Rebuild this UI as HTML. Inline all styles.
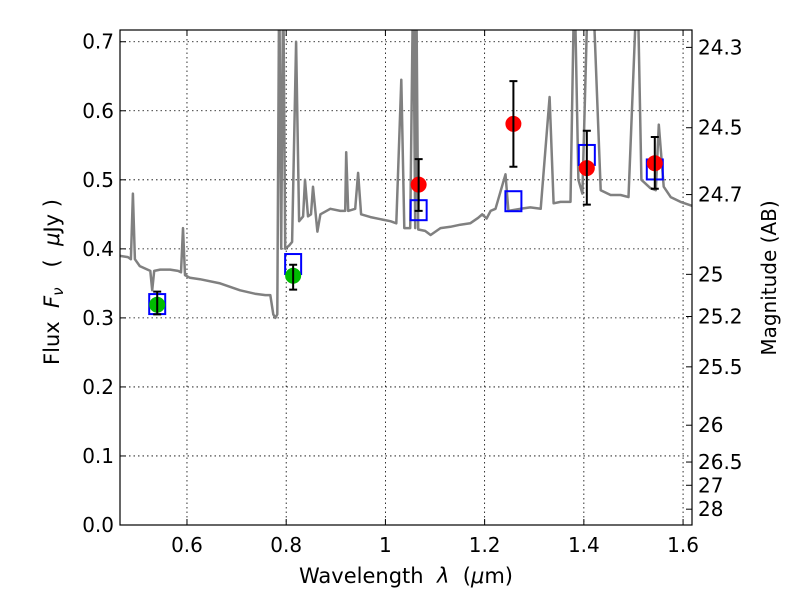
<!DOCTYPE html>
<html><head><meta charset="utf-8"><style>
body{margin:0;background:#fff}
svg{font-family:"DejaVu Sans","Liberation Sans",sans-serif}
text{white-space:pre}
</style></head><body>
<svg id="chart" width="800" height="600" xmlns="http://www.w3.org/2000/svg">
<defs><clipPath id="clip"><rect x="120" y="30" width="572" height="495"/></clipPath></defs>
<rect width="800" height="600" fill="#fff"/>
<g id="grid"></g>
<g id="spec" clip-path="url(#clip)"></g>
<g id="marks"></g>
<rect x="120" y="30" width="572" height="495" fill="none" stroke="#000" stroke-width="1.2"/>
<g id="axes"></g>
<text x="406" y="583" font-size="21" text-anchor="middle">Wavelength  <tspan font-style="italic">λ</tspan>  (<tspan font-style="italic">μ</tspan>m)</text>
<text transform="translate(59,282) rotate(-90)" font-size="21" text-anchor="middle">Flux  <tspan font-style="italic">F<tspan font-size="15" dy="4">ν</tspan></tspan><tspan dy="-4">   (  </tspan><tspan font-style="italic">μ</tspan>Jy )</text>
<text transform="translate(776,278) rotate(-90)" font-size="20" text-anchor="middle">Magnitude (AB)</text>
</svg>
<script>
const xTicks=[0.6,0.8,1.0,1.2,1.4,1.6];
const xTickLabels=["0.6","0.8","1","1.2","1.4","1.6"];
const yTicks=[0,0.1,0.2,0.3,0.4,0.5,0.6,0.7];
const yTickLabels=["0.0","0.1","0.2","0.3","0.4","0.5","0.6","0.7"];
const magTicks=[24.3,24.5,24.7,25,25.2,25.5,26,26.5,27,28];
const specWave=[0.465,0.481,0.487,0.491,0.495,0.505,0.526,0.530,0.534,0.546,0.566,0.582,0.588,0.592,0.596,0.606,0.626,0.667,0.707,0.737,0.758,0.768,0.774,0.778,0.782,0.786,0.790,0.794,0.798,0.806,0.812,0.820,0.826,0.834,0.838,0.844,0.850,0.854,0.863,0.869,0.889,0.909,0.919,0.921,0.925,0.939,0.945,0.951,0.970,0.990,1.010,1.022,1.032,1.038,1.050,1.056,1.060,1.062,1.066,1.080,1.091,1.111,1.131,1.151,1.171,1.187,1.195,1.204,1.212,1.222,1.242,1.248,1.272,1.292,1.313,1.331,1.339,1.353,1.373,1.381,1.389,1.397,1.409,1.417,1.434,1.454,1.474,1.490,1.508,1.516,1.534,1.545,1.551,1.561,1.575,1.595,1.619];
const specFlux=[0.39,0.388,0.385,0.48,0.385,0.375,0.368,0.34,0.368,0.37,0.37,0.368,0.366,0.43,0.362,0.358,0.356,0.35,0.34,0.335,0.333,0.333,0.305,0.30,0.305,0.80,0.40,0.80,0.40,0.405,0.41,0.70,0.44,0.447,0.50,0.447,0.45,0.49,0.425,0.45,0.458,0.455,0.455,0.54,0.455,0.458,0.51,0.45,0.446,0.443,0.44,0.437,0.645,0.43,0.43,0.80,0.43,0.80,0.428,0.426,0.42,0.43,0.432,0.435,0.437,0.445,0.45,0.444,0.455,0.458,0.508,0.455,0.458,0.46,0.458,0.62,0.466,0.468,0.468,0.80,0.50,0.48,0.80,0.80,0.485,0.478,0.478,0.475,0.80,0.50,0.488,0.485,0.58,0.49,0.475,0.468,0.462];
const photWave=[0.54,0.814,1.067,1.258,1.406,1.543];
const photFlux=[0.319,0.361,0.493,0.581,0.517,0.524];
const photErrLo=[0.305,0.341,0.455,0.519,0.464,0.487];
const photErrHi=[0.338,0.377,0.530,0.643,0.571,0.562];
const photColor=["#00bb00","#00bb00","#ff0000","#ff0000","#ff0000","#ff0000"];
const modelFlux=[0.32,0.378,0.456,0.469,0.536,0.515];

const NS="http://www.w3.org/2000/svg";
const X0=120,X1=692,Y0=525,Y1=30,XMIN=0.465,XMAX=1.618,YMIN=0,YMAX=0.717;
const sx=v=>X0+(v-XMIN)/(XMAX-XMIN)*(X1-X0);
const sy=v=>Y0-(v-YMIN)/(YMAX-YMIN)*(Y0-Y1);
function mk(tag,attrs,parent){const e=document.createElementNS(NS,tag);for(const k in attrs)e.setAttribute(k,attrs[k]);document.getElementById(parent).appendChild(e);return e;}

xTicks.forEach((t,i)=>{const x=sx(t);
 let g=mk('line',{x1:x,x2:x,y1:Y1,y2:Y0,stroke:'#000','stroke-width':0.8,'stroke-dasharray':'1.5,3'},'grid');
 
 
 mk('line',{x1:x,x2:x,y1:Y0,y2:Y0-6,stroke:'#000'},'axes');
 mk('line',{x1:x,x2:x,y1:Y1,y2:Y1+6,stroke:'#000'},'axes');
 let l=mk('text',{x:x,y:Y0+27,'font-size':20,'text-anchor':'middle'},'axes');l.textContent=xTickLabels[i];
 
 
});
yTicks.forEach((t,i)=>{const y=sy(t);
 let g=mk('line',{x1:X0,x2:X1,y1:y,y2:y,stroke:'#000','stroke-width':0.8,'stroke-dasharray':'1.5,3'},'grid');
 
 
 mk('line',{x1:X0,x2:X0+6,y1:y,y2:y,stroke:'#000'},'axes');
 let l=mk('text',{x:X0-6,y:y+7,'font-size':20,'text-anchor':'end'},'axes');l.textContent=yTickLabels[i];
 
 
});
magTicks.forEach(m=>{const f=Math.pow(10,(23.9-m)/2.5);const y=sy(f);
 mk('line',{x1:X1,x2:X1-6,y1:y,y2:y,stroke:'#000'},'axes');
 let l=mk('text',{x:X1+6,y:y+7,'font-size':20},'axes');l.textContent=String(m);
 
 
});
let d='';specWave.forEach((w,i)=>{d+=(i?'L':'M')+sx(w).toFixed(1)+','+sy(specFlux[i]).toFixed(1);});
const sp=mk('path',{d:d,fill:'none',stroke:'#808080','stroke-width':2.5,'stroke-linejoin':'round'},'spec');


photWave.forEach((w,i)=>{const x=sx(w);
 const b=mk('rect',{x:x-8,y:sy(modelFlux[i])-10,width:16,height:20,fill:'none',stroke:'#0000ff','stroke-width':2},'marks');
 
 
 const c=mk('circle',{cx:x,cy:sy(photFlux[i]),r:8,fill:photColor[i]},'marks');
 
 
 const e=mk('path',{d:`M${x},${sy(photErrLo[i])}L${x},${sy(photErrHi[i])}M${x-4},${sy(photErrLo[i])}L${x+4},${sy(photErrLo[i])}M${x-4},${sy(photErrHi[i])}L${x+4},${sy(photErrHi[i])}`,stroke:'#000','stroke-width':2,fill:'none'},'marks');
 
 
});
</script>
</body></html>
